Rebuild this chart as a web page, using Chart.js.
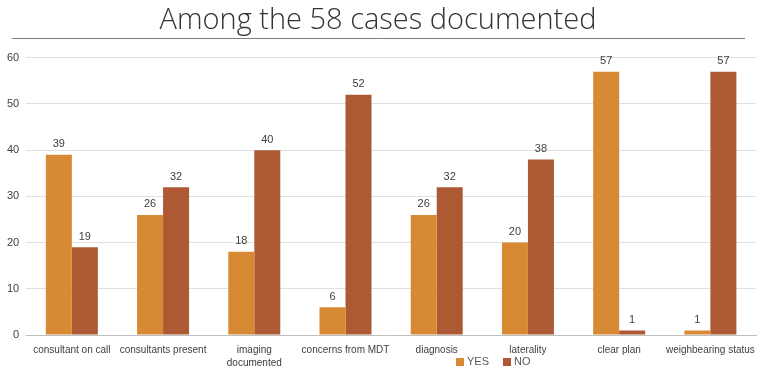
<!DOCTYPE html>
<html>
<head>
<meta charset="utf-8">
<script src="https://cdn.jsdelivr.net/npm/chart.js@4/dist/chart.umd.min.js"></script>
<style>
  body { margin: 0; background: #fff; }
  #wrap { position: relative; width: 760px; height: 371px; }
  #legend { position: absolute; left: 456px; top: 355px; font: 11px "Liberation Sans", sans-serif; color: #595959; }
  #legend span.box { display: inline-block; width: 8px; height: 8px; margin-right: 3px; vertical-align: -1px; }
  #legend span.item { margin-right: 14px; }
</style>
</head>
<body>
<div id="wrap">
  <canvas id="chart" width="760" height="371"></canvas>
  <div id="legend"></div>
</div>
<script>
const categories = ['consultant on call', 'consultants present', ['imaging', 'documented'], 'concerns from MDT',
  'diagnosis', 'laterality', 'clear plan', 'weighbearing status'];
const yesValues = [39, 26, 18, 6, 26, 20, 57, 1];
const noValues = [19, 32, 40, 52, 32, 38, 1, 57];
const yTicks = [0, 10, 20, 30, 40, 50, 60];

const yesColor = '#D88934';
const noColor = '#AD5A34';

// numbers above each bar
const valueLabels = {
  id: 'valueLabels',
  afterDatasetsDraw(chart) {
    const ctx = chart.ctx;
    ctx.save();
    ctx.font = '11px "Liberation Sans", sans-serif';
    ctx.fillStyle = '#404040';
    ctx.textAlign = 'center';
    ctx.textBaseline = 'bottom';
    chart.data.datasets.forEach((ds, i) => {
      chart.getDatasetMeta(i).data.forEach((bar, j) => {
        ctx.fillText(ds.data[j], bar.x, bar.y - 5);
      });
    });
    ctx.restore();
  }
};

// rule under the title
const titleRule = {
  id: 'titleRule',
  afterDraw(chart) {
    const ctx = chart.ctx;
    ctx.save();
    ctx.strokeStyle = '#7f7f7f';
    ctx.lineWidth = 1;
    ctx.beginPath();
    ctx.moveTo(12, 38.5);
    ctx.lineTo(745, 38.5);
    ctx.stroke();
    ctx.restore();
  }
};

new Chart(document.getElementById('chart'), {
  type: 'bar',
  data: {
    labels: categories,
    datasets: [
      { label: 'YES', data: yesValues, backgroundColor: yesColor },
      { label: 'NO', data: noValues, backgroundColor: noColor }
    ]
  },
  options: {
    responsive: false,
    animation: false,
    layout: { padding: { left: 0, right: 4, top: 0, bottom: 0 } },
    datasets: { bar: { categoryPercentage: 0.57, barPercentage: 1 } },
    scales: {
      x: {
        grid: { display: false },
        border: { color: '#bfbfbf' },
        ticks: { color: '#404040', font: { size: 10, family: 'Liberation Sans', lineHeight: 1.3 }, maxRotation: 0, autoSkip: false, padding: 1 }
      },
      y: {
        min: 0, max: 60,
        afterBuildTicks: (axis) => { axis.ticks = yTicks.map(v => ({ value: v })); },
        grid: { color: '#e0e0e0', drawTicks: false },
        border: { display: false },
        ticks: { color: '#404040', font: { size: 11, family: 'Liberation Sans' }, padding: 7 }
      }
    },
    plugins: {
      legend: { display: false },
      tooltip: { enabled: false },
      title: {
        display: true,
        text: 'Among the 58 cases documented',
        color: '#333333',
        font: { size: 29, weight: '300', family: 'Open Sans' },
        padding: { top: 3, bottom: 20 }
      }
    }
  },
  plugins: [valueLabels, titleRule]
});

document.getElementById('legend').innerHTML =
  '<span class="item"><span class="box" style="background:' + yesColor + '"></span>YES</span>' +
  '<span class="item"><span class="box" style="background:' + noColor + '"></span>NO</span>';
</script>
</body>
</html>
